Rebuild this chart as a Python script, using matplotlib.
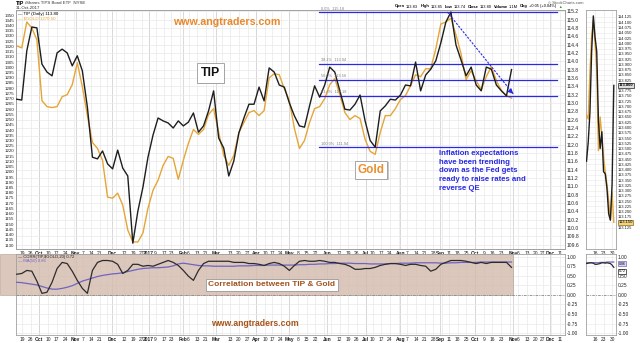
import numpy as np
import pandas as pd
import matplotlib
matplotlib.use('Agg')
import matplotlib.pyplot as plt
import matplotlib.patheffects as pe
from matplotlib.patches import Rectangle

plt.rcParams['font.family'] = ['Liberation Sans', 'DejaVu Sans']

W, H = 640, 343

# NYSE holidays, so the x axis runs in trading days
holidays = ['2016-11-24', '2016-12-26', '2017-01-02', '2017-01-16', '2017-02-20',
            '2017-04-14', '2017-05-29', '2017-07-04', '2017-09-04', '2017-11-23',
            '2017-12-25']
cal = pd.bdate_range('2016-09-01', '2017-12-29', freq='C', holidays=holidays)


def day(d):
    return cal.get_loc(pd.Timestamp(d))


# TIP closes (right scale), sampled from 14-Sep-2016 to 31-Oct-2017
tip_close = [113.09, 113.07, 114.25, 114.82, 114.80, 113.93, 113.74, 113.65, 114.20, 114.29,
             114.20, 113.89, 114.13, 113.77, 112.90, 111.70, 111.66, 111.85, 111.54, 111.42,
             111.87, 111.44, 111.25, 109.64, 110.41, 110.98, 111.70, 112.23, 112.64, 112.57,
             112.52, 112.40, 112.57, 112.45, 112.54, 112.76, 112.30, 112.45, 112.81, 113.29,
             112.16, 111.92, 111.25, 111.61, 112.28, 112.64, 112.97, 112.97, 113.38, 113.05,
             113.84, 113.74, 113.43, 113.38, 113.00, 112.69, 112.45, 112.42, 112.93, 113.41,
             113.14, 113.43, 113.86, 113.74, 113.29, 112.85, 112.83, 112.97, 113.19, 112.57,
             112.10, 111.94, 112.81, 112.93, 113.09, 113.07, 113.19, 113.43, 113.41, 113.98,
             113.29, 113.67, 113.81, 114.01, 114.44, 114.94, 115.18, 114.39, 114.03, 113.65,
             113.86, 113.43, 113.29, 113.86, 113.81, 113.43, 113.29, 113.17, 113.80]

# spot gold (left scale), same dates
gold_close = [1320.5, 1318.6, 1343.3, 1337.6, 1326.2, 1268.1, 1262.4, 1261.5, 1262.4, 1271.9,
              1273.8, 1283.4, 1304.3, 1281.5, 1253.8, 1228.1, 1222.4, 1211.0, 1175.8, 1174.8,
              1179.6, 1168.2, 1144.4, 1132.9, 1132.9, 1141.5, 1165.3, 1182.4, 1192.0, 1206.2,
              1214.8, 1212.9, 1192.9, 1211.0, 1227.2, 1240.5, 1235.8, 1240.5, 1254.8, 1260.5,
              1237.7, 1215.8, 1206.2, 1215.8, 1237.7, 1247.2, 1256.7, 1258.6, 1253.8, 1258.6,
              1290.0, 1293.8, 1292.9, 1279.5, 1268.1, 1241.5, 1222.4, 1230.0, 1247.2, 1260.5,
              1262.4, 1270.0, 1283.4, 1289.1, 1273.8, 1256.7, 1250.0, 1253.8, 1251.0, 1231.0,
              1219.6, 1216.7, 1237.7, 1253.8, 1253.8, 1260.5, 1269.1, 1272.9, 1282.4, 1292.9,
              1291.0, 1298.6, 1298.6, 1317.6, 1341.4, 1343.3, 1347.0, 1331.0, 1312.9, 1288.1,
              1296.7, 1287.2, 1278.6, 1291.0, 1300.5, 1287.2, 1277.6, 1272.9, 1270.5]

# 20-day correlation TIP vs gold and its 50-day average
corr20 = [0.54, 0.56, 0.64, 0.62, 0.36, 0.04, 0.07, 0.33, 0.69, 0.85,
          0.82, 0.62, 0.38, 0.17, 0.04, 0.64, 0.85, 0.90, 0.90, 0.88,
          0.80, 0.56, 0.64, 0.80, 0.80, 0.75, 0.77, 0.75, 0.80, 0.85,
          0.90, 0.85, 0.77, 0.64, 0.49, 0.38, 0.64, 0.82, 0.88, 0.88,
          0.88, 0.88, 0.88, 0.85, 0.85, 0.85, 0.82, 0.82, 0.80, 0.77,
          0.82, 0.85, 0.82, 0.75, 0.64, 0.77, 0.88, 0.90, 0.88, 0.88,
          0.90, 0.88, 0.85, 0.85, 0.82, 0.80, 0.75, 0.67, 0.67, 0.69,
          0.69, 0.72, 0.77, 0.80, 0.82, 0.82, 0.80, 0.77, 0.80, 0.80,
          0.77, 0.75, 0.62, 0.67, 0.80, 0.85, 0.90, 0.90, 0.90, 0.88,
          0.85, 0.82, 0.85, 0.82, 0.85, 0.85, 0.85, 0.85, 0.72]
corr_ma50 = [0.33, 0.32, 0.30, 0.28, 0.26, 0.22, 0.18, 0.15, 0.15, 0.17,
             0.20, 0.24, 0.30, 0.36, 0.40, 0.44, 0.48, 0.51, 0.53, 0.55,
             0.56, 0.58, 0.61, 0.64, 0.67, 0.69, 0.70, 0.71, 0.71, 0.72,
             0.73, 0.76, 0.81, 0.83, 0.81, 0.79, 0.77, 0.76, 0.76, 0.75,
             0.75, 0.75, 0.75, 0.75, 0.76, 0.76, 0.76, 0.77, 0.77, 0.77,
             0.78, 0.78, 0.78, 0.78, 0.78, 0.78, 0.79, 0.79, 0.80, 0.80,
             0.81, 0.81, 0.82, 0.82, 0.83, 0.83, 0.83, 0.82, 0.82, 0.82,
             0.81, 0.81, 0.81, 0.81, 0.82, 0.82, 0.83, 0.83, 0.83, 0.84,
             0.84, 0.84, 0.84, 0.84, 0.83, 0.83, 0.84, 0.84, 0.85, 0.85,
             0.85, 0.85, 0.86, 0.86, 0.86, 0.86, 0.86, 0.86, 0.86]

# last three weeks, small side panel
mini_tip = [113.44, 113.53, 113.67, 113.96, 114.13, 114.03, 113.96, 113.63, 113.50,
            113.58, 113.39, 113.38, 113.31, 113.19, 113.16, 113.33, 113.80]
mini_gold = [113.66, 113.64, 113.86, 114.03, 114.11, 114.00, 113.88, 113.49, 113.65,
             113.56, 113.46, 113.39, 113.33, 113.25, 113.16, 113.29, 113.15]
mini_corr = [0.82, 0.83, 0.84, 0.84, 0.83, 0.80, 0.80, 0.81, 0.82,
             0.84, 0.84, 0.83, 0.84, 0.83, 0.82, 0.78, 0.72]
mini_ma = [0.84, 0.84, 0.84, 0.84, 0.84, 0.84, 0.84, 0.84, 0.85,
           0.85, 0.85, 0.85, 0.86, 0.86, 0.86, 0.86, 0.86]

# Fibonacci retracement of the Jul-Sep TIP rally
fib_high, fib_low = 115.18, 111.94
fib_pcts = [0.0, 0.382, 0.5, 0.618, 1.0]

date_ticks = [('2016-09-19', '19'), ('2016-09-26', '26'), ('2016-10-03', 'Oct'), ('2016-10-10', '10'),
              ('2016-10-17', '17'), ('2016-10-24', '24'), ('2016-11-01', 'Nov'), ('2016-11-07', '7'),
              ('2016-11-14', '14'), ('2016-11-21', '21'), ('2016-12-01', 'Dec'), ('2016-12-12', '12'),
              ('2016-12-19', '19'), ('2016-12-27', '27'), ('2017-01-03', '2017'), ('2017-01-09', '9'),
              ('2017-01-17', '17'), ('2017-01-23', '23'), ('2017-02-01', 'Feb'), ('2017-02-06', '6'),
              ('2017-02-13', '13'), ('2017-02-21', '21'), ('2017-03-01', 'Mar'), ('2017-03-13', '13'),
              ('2017-03-20', '20'), ('2017-03-27', '27'), ('2017-04-03', 'Apr'), ('2017-04-10', '10'),
              ('2017-04-17', '17'), ('2017-04-24', '24'), ('2017-05-01', 'May'), ('2017-05-08', '8'),
              ('2017-05-15', '15'), ('2017-05-22', '22'), ('2017-06-01', 'Jun'), ('2017-06-12', '12'),
              ('2017-06-19', '19'), ('2017-06-26', '26'), ('2017-07-03', 'Jul'), ('2017-07-10', '10'),
              ('2017-07-17', '17'), ('2017-07-24', '24'), ('2017-08-01', 'Aug'), ('2017-08-07', '7'),
              ('2017-08-14', '14'), ('2017-08-21', '21'), ('2017-08-28', '28'), ('2017-09-01', 'Sep'),
              ('2017-09-11', '11'), ('2017-09-18', '18'), ('2017-09-25', '25'), ('2017-10-02', 'Oct'),
              ('2017-10-09', '9'), ('2017-10-16', '16'), ('2017-10-23', '23'), ('2017-11-01', 'Nov'),
              ('2017-11-06', '6'), ('2017-11-13', '13'), ('2017-11-20', '20'), ('2017-11-27', '27'),
              ('2017-12-01', 'Dec'), ('2017-12-11', '11')]
mini_ticks = [('2017-10-16', '16'), ('2017-10-23', '23'), ('2017-10-30', '30')]

header = [('Open', 'bold'), ('113.83', 'normal'), ('High', 'bold'), ('113.85', 'normal'),
          ('Low', 'bold'), ('113.74', 'normal'), ('Close', 'bold'), ('113.80', 'normal'),
          ('Volume', 'bold'), ('1.1M', 'normal'), ('Chg', 'bold'), ('+0.05 (+0.04%)', 'normal')]

BLACK = '#1e1e1e'
GOLD = '#E6A537'
PURPLE = '#6f63c4'
BLUE = '#2a2ae6'
GRID = '#e9e9e9'
MGRID = '#d2d2d2'
SPINE = '#a0a0a0'


def box(l, t, r, b):
    return [l / W, 1 - b / H, (r - l) / W, (b - t) / H]


def px(x, y):
    return x / W, 1 - y / H


def style(a):
    for s in a.spines.values():
        s.set_color(SPINE)
        s.set_linewidth(0.6)
    a.tick_params(length=0, pad=1.2, labelsize=3.5, colors='#222222')


fig = plt.figure(figsize=(W / 100, H / 100), dpi=100)
renderer = fig.canvas.get_renderer()

axg = fig.add_axes(box(16, 10, 565, 249))
ax = axg.twinx()
axc = fig.add_axes(box(16, 254, 565, 335))
axm = fig.add_axes(box(586, 10, 616, 249))
axmc = fig.add_axes(box(586, 254, 616, 335))

x = np.linspace(day('2016-09-14'), day('2017-10-31'), len(tip_close))
xm = np.arange(day('2017-10-09'), day('2017-10-31') + 1)
xlim = (day('2016-09-14') - 0.4, day('2017-10-02') + 51.8)

tip_lim = (109.50, 115.228)
gold_lim = (1126.2, 1354.8)

s = pd.Series(np.arange(len(cal)), index=cal)
week_first = s.groupby(cal.to_period('W')).first().values
month_first = s.groupby(cal.to_period('M')).first().values

tick_pos = [day(d) for d, _ in date_ticks]
tick_lab = [lab for _, lab in date_ticks]

for a in (axg, axc):
    a.set_xlim(xlim)
    for w in week_first:
        a.axvline(w, color=GRID, lw=0.5, zorder=0)
    for m in month_first:
        a.axvline(m, color=MGRID, lw=0.6, zorder=0)
    a.set_xticks(tick_pos)
    a.set_xticklabels(tick_lab)
    for t, lab in zip(a.get_xticklabels(), tick_lab):
        if not lab.isdigit() or len(lab) == 4:
            t.set_fontweight('bold')
    style(a)

# price panel: gold underneath, TIP on top
tip_ticks = np.arange(109.6, 115.21, 0.2)
for t in tip_ticks:
    frac = (t - tip_lim[0]) / (tip_lim[1] - tip_lim[0])
    axg.plot([0, 1], [frac, frac], transform=axg.transAxes, color=GRID, lw=0.5, zorder=0)

axg.plot(x, gold_close, color=GOLD, lw=1.0, zorder=3)
axg.set_ylim(gold_lim)
axg.set_yticks(np.arange(1130, 1351, 5))
axg.tick_params(axis='y', labelsize=3.2)

ax.plot(x, tip_close, color=BLACK, lw=1.0, zorder=3)
ax.set_ylim(tip_lim)
ax.set_yticks(tip_ticks)
ax.set_yticklabels(['%.1f' % t for t in tip_ticks])
style(ax)
ax.tick_params(axis='y', labelsize=3.6)

fib_x0, fib_x1 = day('2017-05-24'), day('2017-12-07')
for p in fib_pcts:
    lvl = fib_high - p * (fib_high - fib_low)
    ax.plot([fib_x0, fib_x1], [lvl, lvl], color=BLUE, lw=0.9, zorder=2)
    ax.text(fib_x0 + 1, lvl + 0.035, '%.1f%%  %.2f' % (p * 100, lvl), fontsize=2.8,
            color='#808080', va='bottom', ha='left')

# falling trend line off the September high
trend_end = (day('2017-11-01'), 113.22)
ax.plot([day('2017-09-08'), trend_end[0]], [fib_high, trend_end[1]], color=BLUE, lw=0.8,
        dashes=(2.0, 1.2), zorder=4)
ax.annotate('', xy=trend_end, xytext=(trend_end[0] - 2.2, trend_end[1] + 0.09),
            arrowprops=dict(arrowstyle='-|>', color=BLUE, lw=0.8, mutation_scale=7), zorder=4)

# correlation panel
axc.set_ylim(-1.05, 1.07)
axc.yaxis.tick_right()
cticks = np.arange(-1.0, 1.01, 0.25)
axc.set_yticks(cticks)
axc.set_yticklabels(['%.2f' % c for c in cticks])
for c in cticks:
    axc.axhline(c, color=GRID, lw=0.5, zorder=0)
axc.axhline(0, color='#8a8a8a', lw=0.6, dashes=(3, 1.5, 1, 1.5), zorder=2)
axc.plot(x, corr_ma50, color=PURPLE, lw=0.9, zorder=3)
axc.plot(x, corr20, color='#2c2c2c', lw=0.9, zorder=4)
tan = Rectangle((0, 1 - 295 / H), 513 / W, 41 / H, transform=fig.transFigure,
                facecolor='#D4BAAC', edgecolor='#b59c8e', lw=0.5, alpha=0.8,
                zorder=1.5, clip_on=False)
axc.add_patch(tan)

# side panels with the last few sessions
mticks = [day(d) for d, _ in mini_ticks]
for a in (axm, axmc):
    a.set_xlim(day('2017-10-09') - 0.3, day('2017-10-31') + 1.3)
    a.set_xticks(mticks)
    a.set_xticklabels([lab for _, lab in mini_ticks])
    for m in mticks:
        a.axvline(m, color=GRID, lw=0.5, zorder=0)
    a.yaxis.tick_right()
    style(a)

mt = np.arange(113.125, 114.126, 0.025)
axm.set_ylim(113.023, 114.158)
axm.set_yticks(mt)
axm.set_yticklabels(['%.3f' % v for v in mt])
axm.tick_params(axis='y', labelsize=3.0)
for v in mt:
    axm.axhline(v, color=GRID, lw=0.4, zorder=0)
axm.plot(xm, mini_gold, color=GOLD, lw=1.0, zorder=3)
axm.plot(xm, mini_tip, color=BLACK, lw=1.0, zorder=4)
ytr = axm.get_yaxis_transform()
axm.text(1.08, mini_tip[-1], '%.3f' % mini_tip[-1], transform=ytr, fontsize=3.0, va='center',
         fontweight='bold', bbox=dict(boxstyle='square,pad=0.15', fc='#dedede', ec='#222222', lw=0.5))
axm.text(1.08, mini_gold[-1], '%.3f' % mini_gold[-1], transform=ytr, fontsize=3.0, va='center',
         bbox=dict(boxstyle='square,pad=0.15', fc='#f2d27a', ec='#8a6a20', lw=0.5))

# the last-value flags sit where the 0.75 label would be
axmc.set_ylim(-1.05, 1.07)
axmc.set_yticks(cticks)
axmc.set_yticklabels(['' if abs(c - 0.75) < 1e-6 else '%.2f' % c for c in cticks])
for c in cticks:
    axmc.axhline(c, color=GRID, lw=0.4, zorder=0)
axmc.axhline(0, color='#8a8a8a', lw=0.6, dashes=(3, 1.5, 1, 1.5), zorder=2)
axmc.plot(xm, mini_ma, color=PURPLE, lw=0.9, zorder=3)
axmc.plot(xm, mini_corr, color='#2c2c2c', lw=0.9, zorder=4)
ytr = axmc.get_yaxis_transform()
axmc.text(1.08, 0.82, '%.2f' % mini_ma[-1], transform=ytr, fontsize=2.6, va='center',
          bbox=dict(boxstyle='square,pad=0.12', fc='#dcd6f4', ec=PURPLE, lw=0.5))
axmc.text(1.08, 0.62, '%.2f' % mini_corr[-1], transform=ytr, fontsize=2.6,
          va='center', bbox=dict(boxstyle='square,pad=0.12', fc='white', ec='#222222', lw=0.5))

# header and legends
fig.text(*px(16, 3.5), 'TIP', fontsize=3.8, fontweight='bold', va='center')
fig.text(*px(25, 3.5), 'iShares TIPS Bond ETF  NYSE', fontsize=3.2, va='center', color='#333333')
fig.text(*px(16, 8.2), '31-Oct-2017', fontsize=3.2, va='center', color='#333333')
fig.text(*px(18, 14), '\u2014 TIP (Daily) %.2f' % tip_close[-1], fontsize=3.2, va='center')
fig.text(*px(18, 18.5), '\u2014 $GOLD %.2f' % gold_close[-1], fontsize=3.2, va='center', color=GOLD)
fig.text(*px(18, 257), '\u2014 CORR(TIP,$GOLD,20) %.2f' % corr20[-1], fontsize=3.0, va='center',
         color='#222222', zorder=5)
fig.text(*px(18, 261), '\u2014 MA(50) %.2f' % corr_ma50[-1], fontsize=3.0, va='center',
         color=PURPLE, zorder=5)
fig.text(*px(548, 2.5), '\u00a9 StockCharts.com', fontsize=3.0, va='center', color='#555555')

# quote line laid out word by word
hx = 395
for txt, wt in header:
    t = fig.text(*px(hx, 6.5), txt, fontsize=2.9, fontweight=wt, va='center')
    hx += t.get_window_extent(renderer).width + (1.0 if wt == 'bold' else 2.2)
fig.text(*px(hx, 6.5), '\u25b2', fontsize=2.6, va='center', color='#2aa02a')

shadow = [pe.withSimplePatchShadow(offset=(0.8, -0.8), shadow_rgbFace='#b0b0b0', alpha=0.7)]


def label_box(xp, yp, txt, size, color, pad):
    t = fig.text(*px(xp, yp), txt, fontsize=size, fontweight='bold', color=color,
                 ha='center', va='center', zorder=6,
                 bbox=dict(boxstyle='square,pad=%s' % pad, fc='white', ec='#9a9a9a', lw=0.6))
    t.get_bbox_patch().set_path_effects(shadow)
    return t


label_box(210.5, 73, 'TIP', 8.8, '#111111', 0.3)
label_box(371, 170, 'Gold', 8.5, '#E8902F', 0.25)
label_box(272, 285, 'Correlation between TIP & Gold', 6.0, '#A0521E', 0.3)

fig.text(*px(439, 150), 'Inflation expectations\nhave been trending\ndown as the Fed gets\n'
         'ready to raise rates and\nreverse QE', fontsize=5.6, fontweight='bold', color=BLUE,
         ha='left', va='top', linespacing=1.35)

fig.text(*px(227, 22), 'www.angtraders.com', fontsize=7.7, fontweight='bold', color='#E8892A',
         ha='center', va='center')
fig.text(*px(255, 324), 'www.angtraders.com', fontsize=6.2, fontweight='bold', color='#A65418',
         ha='center', va='center')

fig.savefig('out.png', dpi=100, facecolor='white')
